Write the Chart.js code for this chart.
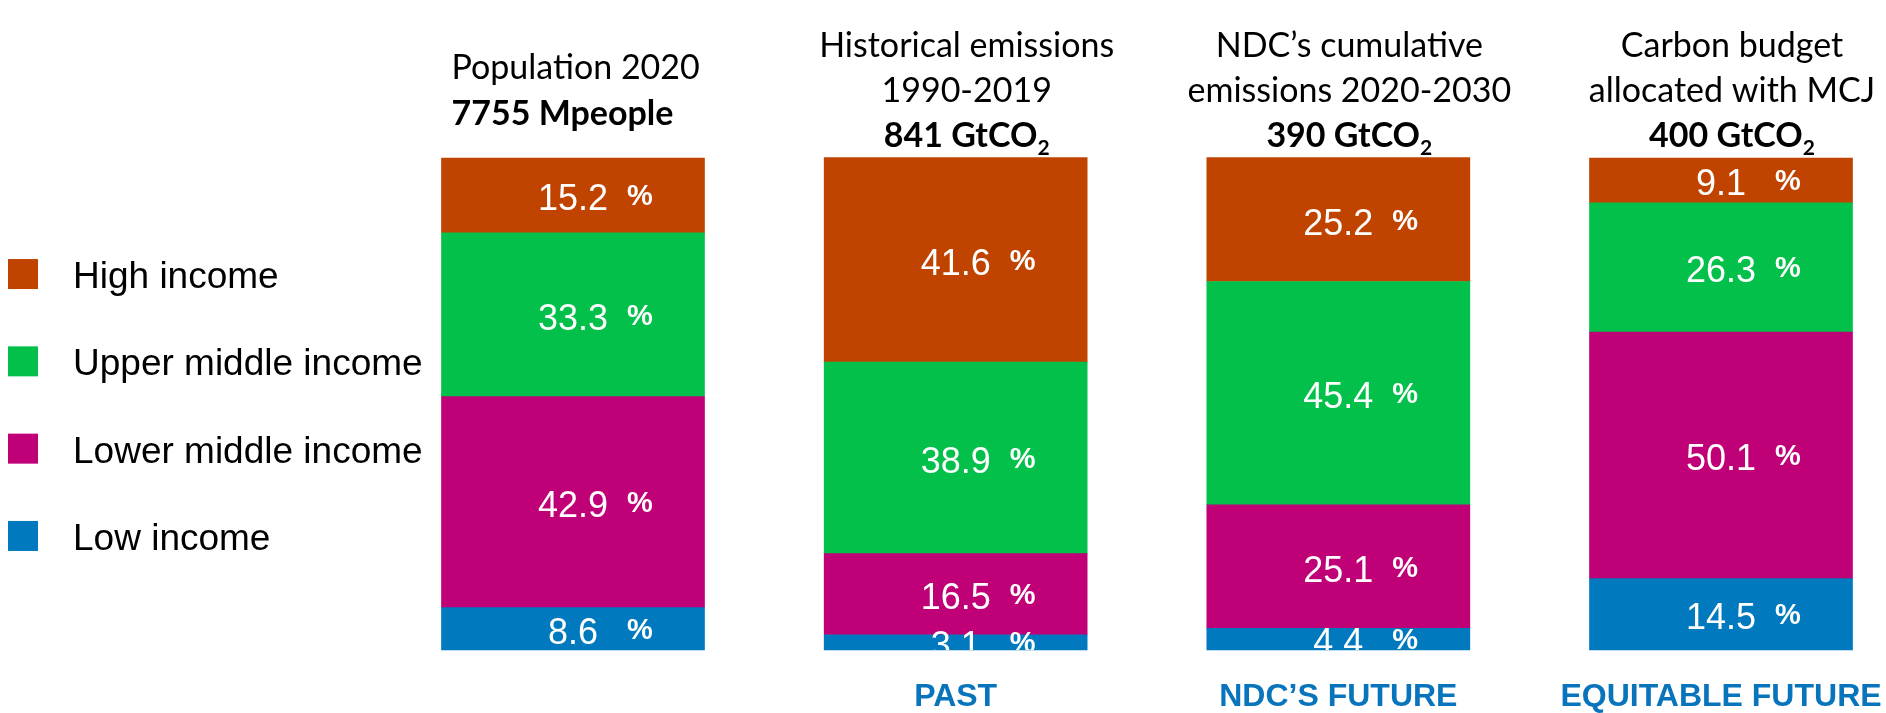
<!DOCTYPE html>
<html>
<head>
<meta charset="utf-8">
<script src="https://cdn.jsdelivr.net/npm/chart.js@4/dist/chart.umd.min.js"></script>
<style>
    body { margin: 0; background: #fff; }
    #wrap { width: 1886px; height: 713px; position: relative; }
</style>
</head>
<body>
<div id="wrap"><canvas id="shares"></canvas></div>
<script>
// Panels (x categories) and the text above each bar
const categories = ['', 'PAST', 'NDC’S FUTURE', 'EQUITABLE FUTURE'];
const titleLines = [
    ['Population 2020'],
    ['Historical emissions', '1990-2019'],
    ['NDC’s cumulative', 'emissions 2020-2030'],
    ['Carbon budget', 'allocated with MCJ']
];
const totals = ['7755 Mpeople', '841 GtCO₂', '390 GtCO₂', '400 GtCO₂'];

// Shares in %, stacked bottom to top
const groups = ['Low income', 'Lower middle income', 'Upper middle income', 'High income'];
const lowIncome = [8.6, 3.1, 4.4, 14.5];
const lowerMiddle = [42.9, 16.5, 25.1, 50.1];
const upperMiddle = [33.3, 38.9, 45.4, 26.3];
const highIncome = [15.2, 41.6, 25.2, 9.1];
const groupColors = ['#0079BF', '#C00076', '#02C04A', '#C04400'];

const SANS = '"Liberation Sans", Arial, sans-serif';
const TITLE = 'Lato, "Open Sans", sans-serif';

// draw "841 GtCO₂" with a real subscript 2
function drawTotal(ctx, text, x, y, align) {
    let main = text, sub = '';
    if (text.endsWith('₂')) {
        main = text.slice(0, -1);
        sub = '2';
    }
    ctx.font = 'bold 34px ' + TITLE;
    const mainW = ctx.measureText(main).width;
    ctx.font = 'bold 21px ' + TITLE;
    const subW = sub ? ctx.measureText(sub).width : 0;
    const start = align === 'left' ? x : x - (mainW + subW) / 2;
    ctx.textAlign = 'left';
    ctx.font = 'bold 34px ' + TITLE;
    ctx.fillText(main, start, y);
    if (sub) {
        ctx.font = 'bold 21px ' + TITLE;
        ctx.fillText(sub, start + mainW, y + 8);
    }
}

const overlay = {
    id: 'overlay',
    afterDatasetsDraw(chart) {
        const ctx = chart.ctx;
        const area = chart.chartArea;
        const bars = chart.getDatasetMeta(0).data;

        // percentage labels inside the segments
        ctx.save();
        ctx.beginPath();
        ctx.rect(0, area.top, chart.width, area.bottom - area.top);
        ctx.clip();
        ctx.fillStyle = '#fff';
        ctx.textBaseline = 'alphabetic';
        chart.data.datasets.forEach((ds, di) => {
            chart.getDatasetMeta(di).data.forEach((bar, i) => {
                const mid = (bar.y + bar.base) / 2;
                ctx.font = '36px ' + SANS;
                ctx.textAlign = 'center';
                ctx.fillText(ds.data[i].toFixed(1), bar.x, mid + 15);
                ctx.font = 'bold 29px ' + SANS;
                ctx.textAlign = 'left';
                ctx.fillText('%', bar.x + 54, mid + 10);
            });
        });
        ctx.restore();

        ctx.save();
        ctx.textBaseline = 'alphabetic';

        // category names under the bars
        ctx.fillStyle = '#0874BC';
        ctx.font = 'bold 32px ' + SANS;
        ctx.textAlign = 'center';
        chart.data.labels.forEach((label, i) => {
            ctx.fillText(label, bars[i].x, area.bottom + 56);
        });

        // headers above the bars
        ctx.fillStyle = '#000';
        const lineGap = 44.5;
        const capH = 23;
        const centerY = area.top - 68;
        titleLines.forEach((lines, i) => {
            const n = lines.length + 1;
            const firstBase = centerY + (capH - (n - 1) * lineGap) / 2;
            const bar = bars[i];
            const align = i === 0 ? 'left' : 'center';
            const x = i === 0 ? bar.x - bar.width / 2 + 10 : bar.x + 11;
            ctx.font = '34px ' + TITLE;
            ctx.textAlign = align;
            lines.forEach((line, k) => {
                ctx.fillText(line, x, firstBase + k * lineGap);
            });
            drawTotal(ctx, totals[i], x, firstBase + (n - 1) * lineGap + 1, align);
        });

        // legend on the left, top item = top of stack
        const step = 87.3;
        const mid = (area.top + area.bottom) / 2 + 1;
        const order = chart.data.datasets.map((d, i) => i).reverse();
        ctx.textAlign = 'left';
        order.forEach((di, k) => {
            const ds = chart.data.datasets[di];
            const cy = mid + (k - (order.length - 1) / 2) * step;
            ctx.fillStyle = ds.backgroundColor;
            ctx.fillRect(8, cy - 15, 30, 30);
            ctx.fillStyle = '#000';
            ctx.font = '37px ' + SANS;
            ctx.fillText(ds.label, 73, cy + 14);
        });
        ctx.restore();
    }
};

const series = [lowIncome, lowerMiddle, upperMiddle, highIncome];

new Chart(document.getElementById('shares'), {
    type: 'bar',
    data: {
        labels: categories,
        datasets: series.map((values, i) => ({
            label: groups[i],
            data: values,
            backgroundColor: groupColors[i],
            borderWidth: 0,
            barThickness: 263,
            clip: false
        }))
    },
    options: {
        responsive: true,
        maintainAspectRatio: false,
        animation: false,
        layout: {
            padding: { left: 573, right: 165, top: 158, bottom: 63 }
        },
        plugins: {
            legend: { display: false },
            tooltip: { enabled: false },
            title: { display: false }
        },
        scales: {
            x: {
                stacked: true,
                offset: false,
                display: false
            },
            y: {
                stacked: true,
                display: false,
                min: 0,
                max: 100
            }
        }
    },
    plugins: [overlay]
});
</script>
</body>
</html>
